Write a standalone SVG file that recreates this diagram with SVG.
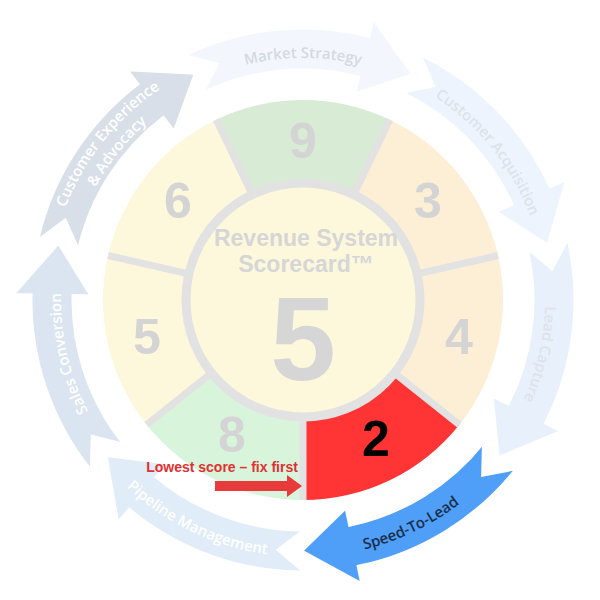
<svg xmlns="http://www.w3.org/2000/svg" xmlns:xlink="http://www.w3.org/1999/xlink" width="600" height="600" viewBox="0 0 600 600">
<style>
.arr{stroke:#fff;stroke-width:3;stroke-linejoin:miter}
.at{font-family:"Open Sans","Liberation Sans",sans-serif;font-weight:600;font-size:15px}
.num{font-family:"Liberation Sans",Arial,sans-serif;font-weight:bold;font-size:50px;fill:#d4d4d4;text-anchor:middle}
.sep{stroke:#e2e2e2;stroke-width:7}
</style>
<defs>
<path id="arrow" d="M303 28 A272 272 0 0 1 477.8 91.6 L489.4 77.9 L500.8 145.5 L439.3 137.6 L450.8 123.8 A230 230 0 0 0 303 70 L329.2 50.4 Z"/>
<path id="cw" d="M311.4 58.1 A242 242 0 0 1 488.4 144.4"/>
<path id="cw1" d="M311.9 45.2 A255 255 0 0 1 498.3 136.1"/>
<path id="cw2" d="M311.2 64.1 A236 236 0 0 1 483.8 148.3"/>
<path id="ccw" d="M499.9 134.8 A257 257 0 0 0 312 43.2"/>
<path id="seg" d="M216.2 119.8 A200 200 0 0 1 389.8 119.8 L352.9 196.4 A115 115 0 0 0 253.1 196.4 Z"/>
</defs>
<rect width="600" height="600" fill="#fff"/>
<g id="outer-arrows">
<g id="cx" transform="rotate(282.6 303 300)"><use href="#arrow" class="arr" fill="#d8dfe8"/>
<text class="at" fill="#fff" text-anchor="middle"><textPath href="#cw1" startOffset="50%">Customer Experience</textPath></text>
<text class="at" fill="#fff" text-anchor="middle"><textPath href="#cw2" startOffset="50%">&amp; Advocacy</textPath></text></g>
<g id="sc" transform="rotate(231.1 303 300)"><use href="#arrow" class="arr" fill="#dbe5f1"/>
<text class="at" fill="#fff" text-anchor="middle"><textPath href="#cw" startOffset="50%">Sales Conversion</textPath></text></g>
<g id="pm" transform="rotate(179.7 303 300)"><use href="#arrow" class="arr" fill="#e1ecf9"/>
<text class="at" fill="#fff" text-anchor="middle"><textPath href="#ccw" startOffset="50%">Pipeline Management</textPath></text></g>
<g id="lc" transform="rotate(76.9 303 300)"><use href="#arrow" class="arr" fill="#e8f0fb"/>
<text class="at" fill="#dde3ea" text-anchor="middle"><textPath href="#cw" startOffset="50%">Lead Capture</textPath></text></g>
<g id="ca" transform="rotate(25.4 303 300)"><use href="#arrow" class="arr" fill="#eef4fd"/>
<text class="at" fill="#dde3ea" text-anchor="middle"><textPath href="#cw" startOffset="50%">Customer Acquisition</textPath></text></g>
<g id="ms" transform="rotate(-26 303 300)"><use href="#arrow" class="arr" fill="#f3f7fd"/>
<text class="at" fill="#d3d9e2" text-anchor="middle"><textPath href="#cw" startOffset="50%">Market Strategy</textPath></text></g>
<g id="stl" transform="rotate(128.3 303 300)"><use href="#arrow" class="arr" fill="#4f9ef8"/>
<text class="at" fill="#1a2e4a" text-anchor="middle"><textPath href="#ccw" startOffset="50%">Speed-To-Lead</textPath></text></g>
</g>
<g id="wheel">
<use href="#seg" fill="#d8ebd5"/>
<use href="#seg" fill="#fdeed6" transform="rotate(51.43 303 300)"/>
<use href="#seg" fill="#fdeed6" transform="rotate(102.86 303 300)"/>
<use href="#seg" fill="#ff3535" transform="rotate(154.29 303 300)"/>
<use href="#seg" fill="#d8f5dc" transform="rotate(205.71 303 300)"/>
<use href="#seg" fill="#fdf7dc" transform="rotate(257.14 303 300)"/>
<use href="#seg" fill="#fdf7dc" transform="rotate(308.57 303 300)"/>
<g class="sep">
<line x1="303" y1="185" x2="303" y2="100" transform="rotate(25.71 303 300)"/>
<line x1="303" y1="185" x2="303" y2="100" transform="rotate(77.14 303 300)"/>
<line x1="303" y1="185" x2="303" y2="100" transform="rotate(128.57 303 300)"/>
<line x1="303" y1="185" x2="303" y2="100" transform="rotate(180 303 300)"/>
<line x1="303" y1="185" x2="303" y2="100" transform="rotate(231.43 303 300)"/>
<line x1="303" y1="185" x2="303" y2="100" transform="rotate(282.86 303 300)"/>
<line x1="303" y1="185" x2="303" y2="100" transform="rotate(334.29 303 300)"/>
</g>
<circle cx="303" cy="300" r="117" fill="#fdf8dc" stroke="#e2e2e2" stroke-width="9"/>
</g>
<g id="scores">
<text class="num" x="303" y="158">9</text>
<text class="num" x="428" y="218">3</text>
<text class="num" x="459" y="354">4</text>
<text class="num" x="376" y="456" style="fill:#000">2</text>
<text class="num" x="232" y="452">8</text>
<text class="num" x="147" y="354">5</text>
<text class="num" x="178" y="218">6</text>
</g>
<g id="center" font-family="'Liberation Sans',Arial,sans-serif" font-weight="bold" fill="#d6d6d6" text-anchor="middle">
<text x="306" y="246" font-size="23">Revenue System</text>
<text x="306" y="272" font-size="23">Scorecard™</text>
<text x="303" y="380" font-size="118">5</text>
</g>
<g id="annotation">
<text x="222" y="472" font-family="'Liberation Sans',Arial,sans-serif" font-weight="bold" font-size="14" fill="#e03030" text-anchor="middle">Lowest score – fix first</text>
<polygon points="215,481 287,481 287,475 302,486 287,497 287,491 215,491" fill="#e83a3a"/>
</g>
</svg>
